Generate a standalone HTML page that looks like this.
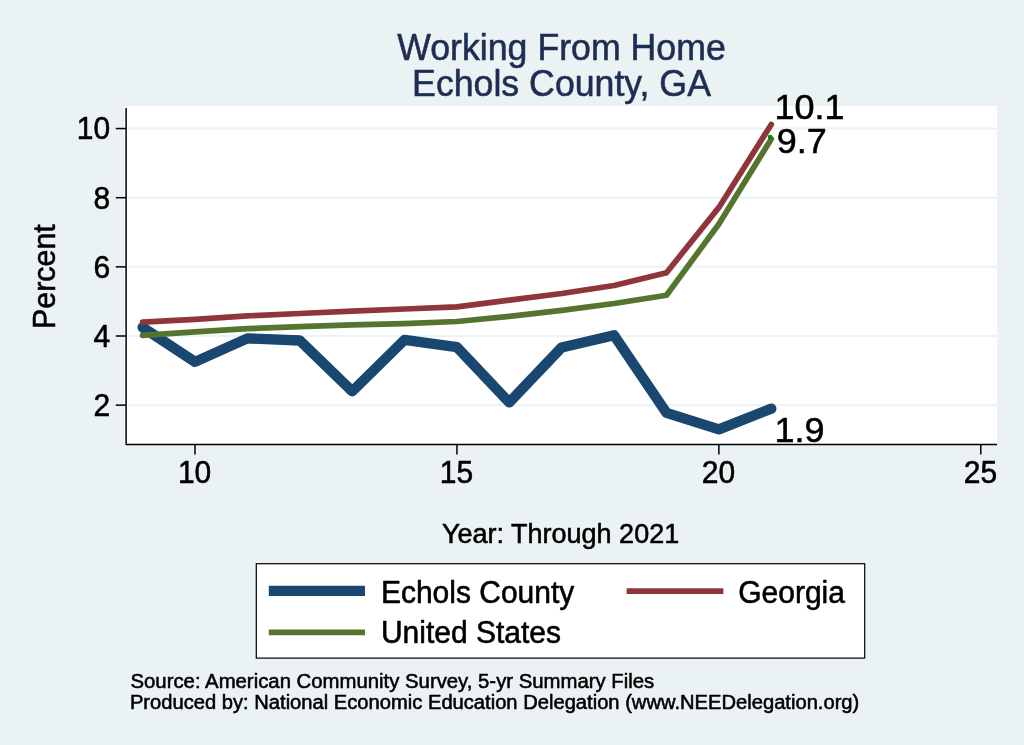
<!DOCTYPE html>
<html lang="en"><head><meta charset="utf-8"><title>Working From Home - Echols County, GA</title>
<style>
html,body{margin:0;padding:0;background:#eaf2f3;}
body{width:1024px;height:745px;overflow:hidden;}
svg{display:block;}
text{font-family:'Liberation Sans', Arial, Helvetica, sans-serif;fill:#000;stroke:#000;stroke-width:0.55px;stroke-linejoin:round;}
.title{font-size:35.7px;fill:#1e2d53;stroke:#1e2d53;text-anchor:middle;}
.tick{font-size:30px;}
.tx{text-anchor:middle;}
.ty{text-anchor:end;}
.axt{font-size:27px;text-anchor:middle;}
.ayt{font-size:30.4px;text-anchor:middle;}
.leg{font-size:30px;}
.mlab{font-size:36px;}
.note{font-size:20.2px;}
.n1{font-size:20.34px;}
.n2{font-size:20.16px;}
</style></head><body>
<svg width="1024" height="745" viewBox="0 0 1024 745">
<rect x="0" y="0" width="1024" height="745" fill="#eaf2f3"/>
<rect x="124" y="106" width="873" height="338.4" fill="#ffffff"/>

<line x1="128" x2="997" y1="405.15" y2="405.15" stroke="#eaf2f3" stroke-width="2"/>
<line x1="128" x2="997" y1="336.00" y2="336.00" stroke="#eaf2f3" stroke-width="2"/>
<line x1="128" x2="997" y1="266.85" y2="266.85" stroke="#eaf2f3" stroke-width="2"/>
<line x1="128" x2="997" y1="197.70" y2="197.70" stroke="#eaf2f3" stroke-width="2"/>
<line x1="128" x2="997" y1="128.55" y2="128.55" stroke="#eaf2f3" stroke-width="2"/>
<polyline points="142.6,327.4 195.0,361.9 247.4,338.4 299.8,340.5 352.2,391.3 404.5,339.8 456.9,347.1 509.3,402.4 561.7,347.4 614.1,335.3 666.5,412.8 718.9,429.4 771.3,408.6" fill="none" stroke="#1a476f" stroke-width="10.3" stroke-linejoin="round" stroke-linecap="round"/>
<polyline points="142.6,322.2 195.0,319.4 247.4,315.9 299.8,313.5 352.2,311.1 404.5,309.0 456.9,306.8 509.3,300.2 561.7,293.5 614.1,285.5 666.5,272.7 718.9,207.4 771.3,124.4" fill="none" stroke="#90353b" stroke-width="5.7" stroke-linejoin="round" stroke-linecap="round"/>
<polyline points="142.6,335.3 195.0,331.9 247.4,328.7 299.8,326.7 352.2,324.9 404.5,323.6 456.9,321.5 509.3,316.3 561.7,310.4 614.1,303.5 666.5,295.2 718.9,224.0 771.3,138.9" fill="none" stroke="#55752f" stroke-width="5.7" stroke-linejoin="round" stroke-linecap="round"/>
<circle cx="770.1" cy="137.1" r="2.4" fill="#008a00"/>
<polyline points="126.1,108 126.1,444.4 997,444.4" fill="none" stroke="#000" stroke-width="1.5" stroke-linejoin="round"/>
<line x1="115.8" x2="126" y1="405.15" y2="405.15" stroke="#000" stroke-width="1.5"/>
<text class="tick ty" transform="translate(110.20,416.05) scale(1,1.04)">2</text>
<line x1="115.8" x2="126" y1="336.00" y2="336.00" stroke="#000" stroke-width="1.5"/>
<text class="tick ty" transform="translate(110.20,346.90) scale(1,1.04)">4</text>
<line x1="115.8" x2="126" y1="266.85" y2="266.85" stroke="#000" stroke-width="1.5"/>
<text class="tick ty" transform="translate(110.20,277.75) scale(1,1.04)">6</text>
<line x1="115.8" x2="126" y1="197.70" y2="197.70" stroke="#000" stroke-width="1.5"/>
<text class="tick ty" transform="translate(110.20,208.60) scale(1,1.04)">8</text>
<line x1="115.8" x2="126" y1="128.55" y2="128.55" stroke="#000" stroke-width="1.5"/>
<text class="tick ty" transform="translate(110.20,139.45) scale(1,1.04)">10</text>
<line x1="195.00" x2="195.00" y1="444.4" y2="454.6" stroke="#000" stroke-width="1.5"/>
<text class="tick tx" transform="translate(194.60,483.10) scale(1,1.04)">10</text>
<line x1="456.93" x2="456.93" y1="444.4" y2="454.6" stroke="#000" stroke-width="1.5"/>
<text class="tick tx" transform="translate(456.53,483.10) scale(1,1.04)">15</text>
<line x1="718.87" x2="718.87" y1="444.4" y2="454.6" stroke="#000" stroke-width="1.5"/>
<text class="tick tx" transform="translate(718.47,483.10) scale(1,1.04)">20</text>
<line x1="980.80" x2="980.80" y1="444.4" y2="454.6" stroke="#000" stroke-width="1.5"/>
<text class="tick tx" transform="translate(980.40,483.10) scale(1,1.04)">25</text>
<text class="title" transform="translate(561.50,59.70) scale(1,1.02)">Working From Home</text>
<text class="title" transform="translate(561.50,95.80) scale(1,1.02)">Echols County, GA</text>
<text class="axt" transform="translate(560.60,543.40) scale(1,1.02)">Year: Through 2021</text>
<text class="ayt" transform="translate(55.30,276.60) rotate(-90) scale(1,1.02)">Percent</text>
<text class="mlab" transform="translate(774.40,118.70) scale(1,0.98)">10.1</text>
<text class="mlab" transform="translate(776.80,152.70) scale(1,0.98)">9.7</text>
<text class="mlab" transform="translate(774.40,441.90) scale(1,0.98)">1.9</text>
<rect x="256.3" y="563.7" width="608.4" height="94.4" fill="#fff" stroke="#000" stroke-width="1.2"/>
<line x1="268.8" x2="365" y1="590.9" y2="590.9" stroke="#1a476f" stroke-width="10.3"/>
<line x1="268.8" x2="365" y1="632.3" y2="632.3" stroke="#55752f" stroke-width="5.7"/>
<line x1="626.6" x2="723.4" y1="591.1" y2="591.1" stroke="#90353b" stroke-width="5.7"/>
<text class="leg" transform="translate(380.90,602.60) scale(1,1.02)">Echols County</text>
<text class="leg" transform="translate(380.90,642.60) scale(1,1.02)">United States</text>
<text class="leg" transform="translate(738.20,602.60) scale(1,1.02)">Georgia</text>
<text class="note n1" transform="translate(130.50,687.60) scale(1,1.02)">Source: American Community Survey, 5-yr Summary Files</text>
<text class="note n2" transform="translate(129.90,709.10) scale(1,1.02)">Produced by: National Economic Education Delegation (www.NEEDelegation.org)</text>
</svg>
</body></html>
